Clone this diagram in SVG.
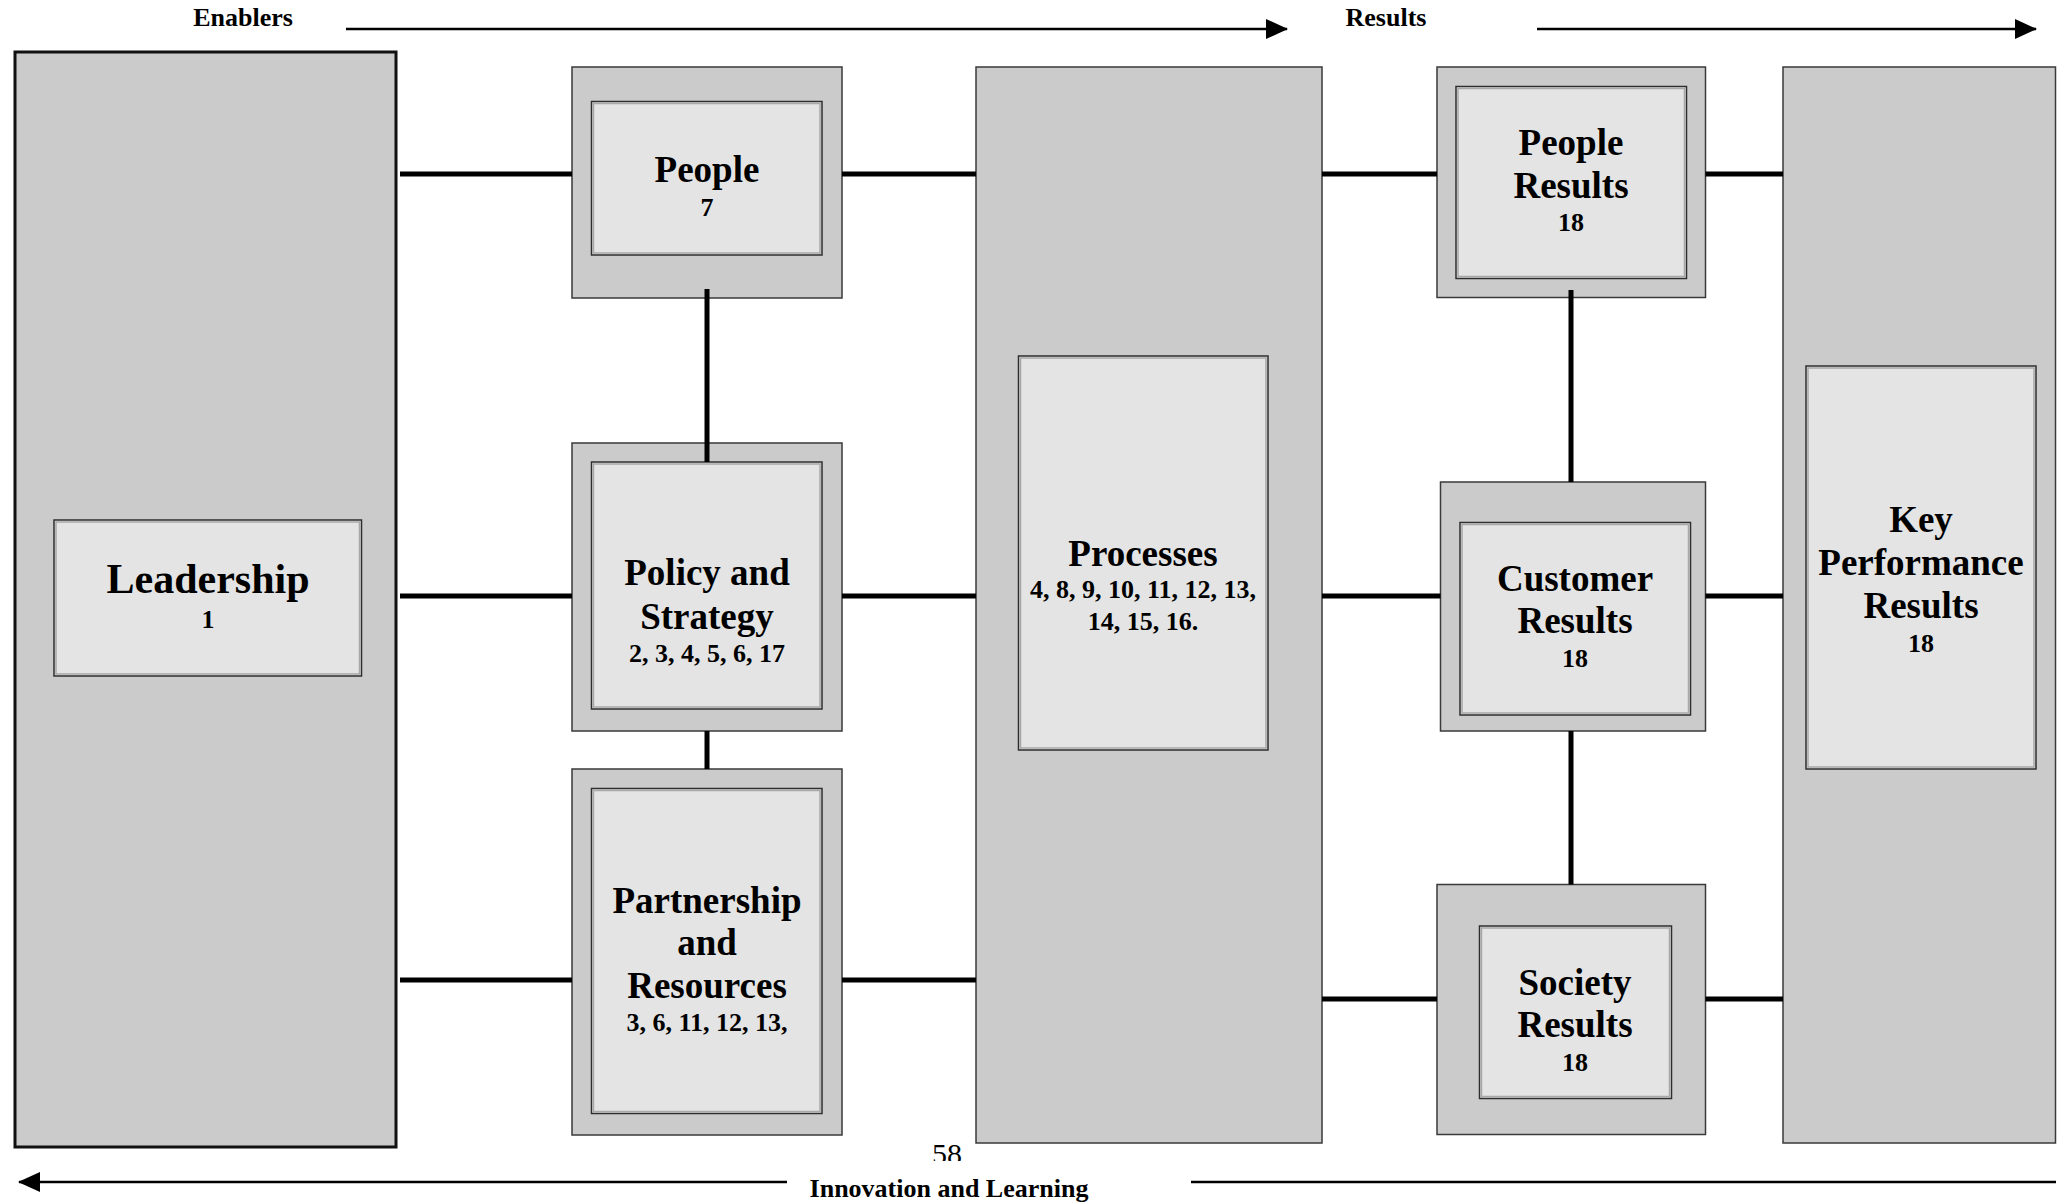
<svg xmlns="http://www.w3.org/2000/svg" width="2058" height="1204" viewBox="0 0 2058 1204">
<style>
.out{fill:#cbcbcb;stroke:#3a3a3a;stroke-width:1.5}
.lead{fill:#cbcbcb;stroke:#111;stroke-width:3}
.in{fill:#e4e4e4;stroke:#2e2e2e;stroke-width:1.5}
.bev{fill:none;stroke:#a8a8a8;stroke-width:1.5}
.t{font-family:"Liberation Serif","Times New Roman",serif;font-weight:bold;text-anchor:middle;fill:#000}
.lab{font-size:37px}
.big{font-size:42px}
.num{font-size:26px}
.hdr{font-family:"Liberation Serif","Times New Roman",serif;font-weight:bold;font-size:26px;fill:#000}
.con{stroke:#000;stroke-width:5;fill:none}
.arr{stroke:#000;stroke-width:2.5;fill:none}
</style>
<defs>
<marker id="ah" markerUnits="userSpaceOnUse" markerWidth="22" markerHeight="22" viewBox="0 0 22 20" refX="21" refY="10" orient="auto">
<path d="M0,0 L22,10 L0,20 z" fill="#000"/>
</marker>
<clipPath id="cut58"><rect x="900" y="1130" width="100" height="31"/></clipPath>
</defs>
<rect width="2058" height="1204" fill="#fff"/>

<g id="header">
<text class="hdr" x="243" y="26" text-anchor="middle">Enablers</text>
<text class="hdr" x="1386" y="26" text-anchor="middle">Results</text>
<text class="hdr" x="949" y="1197" text-anchor="middle">Innovation and Learning</text>
<text x="947" y="1164" clip-path="url(#cut58)" font-family="Liberation Serif,'Times New Roman',serif" font-size="30" text-anchor="middle" fill="#000">58</text>
</g>

<g id="leadership">
<rect class="lead" x="15" y="52" width="381" height="1095"/>
<rect class="in" x="54" y="520" width="307.5" height="156"/>
<rect class="bev" x="56" y="522" width="303.5" height="152"/>
<text class="t big" x="208" y="593">Leadership</text>
<text class="t num" x="208" y="628">1</text>
</g>

<g id="people">
<rect class="out" x="572" y="67" width="270" height="231"/>
<rect class="in" x="591.5" y="101.5" width="230.5" height="153.5"/>
<rect class="bev" x="593.5" y="103.5" width="226.5" height="149.5"/>
<text class="t lab" x="707" y="182">People</text>
<text class="t num" x="707" y="216">7</text>
</g>

<g id="policy">
<rect class="out" x="572" y="443" width="270" height="288"/>
<rect class="in" x="591.5" y="462" width="230.5" height="247"/>
<rect class="bev" x="593.5" y="464" width="226.5" height="243"/>
<text class="t lab" x="707" y="585">Policy and</text>
<text class="t lab" x="707" y="629">Strategy</text>
<text class="t num" x="707" y="662">2, 3, 4, 5, 6, 17</text>
</g>

<g id="partnership">
<rect class="out" x="572" y="769" width="270" height="366"/>
<rect class="in" x="591.5" y="788.5" width="230.5" height="325"/>
<rect class="bev" x="593.5" y="790.5" width="226.5" height="321"/>
<text class="t lab" x="707" y="913">Partnership</text>
<text class="t lab" x="707" y="955">and</text>
<text class="t lab" x="707" y="998">Resources</text>
<text class="t num" x="707" y="1031">3, 6, 11, 12, 13,</text>
</g>

<g id="processes">
<rect class="out" x="976" y="67" width="346" height="1076"/>
<rect class="in" x="1018.5" y="356" width="249.5" height="394"/>
<rect class="bev" x="1020.5" y="358" width="245.5" height="390"/>
<text class="t lab" x="1143" y="566">Processes</text>
<text class="t num" x="1143" y="598">4, 8, 9, 10, 11, 12, 13,</text>
<text class="t num" x="1143" y="630">14, 15, 16.</text>
</g>

<g id="people-results">
<rect class="out" x="1437" y="67" width="268.5" height="230.5"/>
<rect class="in" x="1456" y="86.5" width="230.5" height="192"/>
<rect class="bev" x="1458" y="88.5" width="226.5" height="188"/>
<text class="t lab" x="1571" y="155">People</text>
<text class="t lab" x="1571" y="198">Results</text>
<text class="t num" x="1571" y="231">18</text>
</g>

<g id="customer-results">
<rect class="out" x="1440.5" y="482" width="265" height="249"/>
<rect class="in" x="1460" y="522.5" width="230.5" height="192.5"/>
<rect class="bev" x="1462" y="524.5" width="226.5" height="188.5"/>
<text class="t lab" x="1575" y="591">Customer</text>
<text class="t lab" x="1575" y="633">Results</text>
<text class="t num" x="1575" y="667">18</text>
</g>

<g id="society-results">
<rect class="out" x="1437" y="884.5" width="268.5" height="250"/>
<rect class="in" x="1479.5" y="926" width="192" height="172.5"/>
<rect class="bev" x="1481.5" y="928" width="188" height="168.5"/>
<text class="t lab" x="1575" y="995">Society</text>
<text class="t lab" x="1575" y="1037">Results</text>
<text class="t num" x="1575" y="1071">18</text>
</g>

<g id="key-performance-results">
<rect class="out" x="1783" y="67" width="272.5" height="1076"/>
<rect class="in" x="1806" y="366" width="230" height="403"/>
<rect class="bev" x="1808" y="368" width="226" height="399"/>
<text class="t lab" x="1921" y="532">Key</text>
<text class="t lab" x="1921" y="575">Performance</text>
<text class="t lab" x="1921" y="618">Results</text>
<text class="t num" x="1921" y="652">18</text>
</g>

<g id="connectors">
<line class="con" x1="400" y1="174" x2="572" y2="174"/>
<line class="con" x1="842" y1="174" x2="976" y2="174"/>
<line class="con" x1="1322" y1="174" x2="1437" y2="174"/>
<line class="con" x1="1705.5" y1="174" x2="1783" y2="174"/>
<line class="con" x1="400" y1="596" x2="572" y2="596"/>
<line class="con" x1="842" y1="596" x2="976" y2="596"/>
<line class="con" x1="1322" y1="596" x2="1440.5" y2="596"/>
<line class="con" x1="1705.5" y1="596" x2="1783" y2="596"/>
<line class="con" x1="400" y1="980" x2="572" y2="980"/>
<line class="con" x1="842" y1="980" x2="976" y2="980"/>
<line class="con" x1="1322" y1="999" x2="1437" y2="999"/>
<line class="con" x1="1705.5" y1="999" x2="1783" y2="999"/>
<line class="con" x1="707" y1="289" x2="707" y2="462"/>
<line class="con" x1="707" y1="731" x2="707" y2="769"/>
<line class="con" x1="1571" y1="290" x2="1571" y2="482"/>
<line class="con" x1="1571" y1="731" x2="1571" y2="884.5"/>
<line class="arr" x1="346" y1="29" x2="1287" y2="29" marker-end="url(#ah)"/>
<line class="arr" x1="1537" y1="29" x2="2036" y2="29" marker-end="url(#ah)"/>
<line class="arr" x1="787" y1="1182" x2="19" y2="1182" marker-end="url(#ah)"/>
<line class="arr" x1="1191" y1="1182" x2="2056" y2="1182"/>
</g>
</svg>
